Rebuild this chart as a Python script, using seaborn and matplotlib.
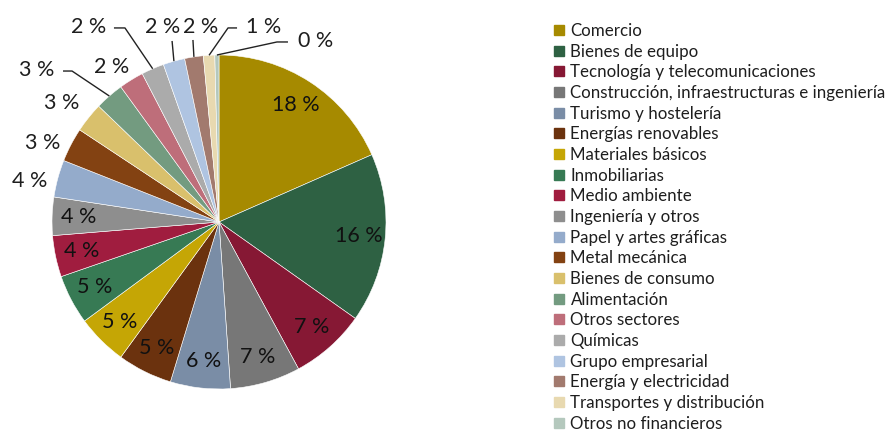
import matplotlib
matplotlib.use("Agg")
import matplotlib.pyplot as plt
from matplotlib.lines import Line2D
import numpy as np
import seaborn as sns

sectors = [
    "Comercio",
    "Bienes de equipo",
    "Tecnología y telecomunicaciones",
    "Construcción, infraestructuras e ingeniería",
    "Turismo y hostelería",
    "Energías renovables",
    "Materiales básicos",
    "Inmobiliarias",
    "Medio ambiente",
    "Ingeniería y otros",
    "Papel y artes gráficas",
    "Metal mecánica",
    "Bienes de consumo",
    "Alimentación",
    "Otros sectores",
    "Químicas",
    "Grupo empresarial",
    "Energía y electricidad",
    "Transportes y distribución",
    "Otros no financieros",
]
shares = [18.4, 16.4, 7.3, 6.8, 5.8, 5.3, 4.9, 4.8, 4.0, 3.7,
          3.6, 3.3, 2.9, 2.8, 2.4, 2.2, 2.1, 1.8, 1.1, 0.4]
colors = [
    "#A68A00", "#2E6143", "#861834", "#777777", "#7A8DA6",
    "#6B320E", "#C5A605", "#377A54", "#A01D3F", "#8E8E8E",
    "#94ABCB", "#834212", "#D9C06C", "#739B80", "#BE6E7A",
    "#ABABAB", "#AFC4E1", "#A27A6E", "#E8D9B0", "#B4C8BD",
]

sns.set_theme(style="white")
plt.rcParams["font.family"] = ["Lato", "DejaVu Sans"]
text_color = "#1e1e1e"

fig = plt.figure(figsize=(8.9, 4.32), dpi=100)
ax = fig.add_axes([52 / 890, 43 / 432, 334 / 890, 334 / 432])
wedges, _ = ax.pie(
    shares, colors=colors, startangle=90, counterclock=False, radius=1,
    wedgeprops=dict(edgecolor="white", linewidth=0.4),
)
ax.set_xlim(-1, 1)
ax.set_ylim(-1, 1)
ax.set_aspect("equal")
ax.axis("off")

total = sum(shares)
labels = [f"{round(100 * v / total)} %" for v in shares]
n_inside = 10

# label placement for the small slices: text position and optional leader elbow
outside = {
    10: ((-1.132, 0.246), None),
    11: ((-1.054, 0.473), None),
    12: ((-0.940, 0.713), None),
    13: ((-1.090, 0.910), [(-0.934, 0.904), (-0.880, 0.904)]),
    14: ((-0.641, 0.928), None),
    15: ((-0.778, 1.168), [(-0.629, 1.162), (-0.563, 1.162)]),
    16: ((-0.335, 1.168), [(-0.281, 1.084)]),
    17: ((-0.108, 1.168), [(-0.156, 1.090)]),
    18: ((0.269, 1.168), [(0.108, 1.162), (0.054, 1.162)]),
    19: ((0.581, 1.084), [(0.413, 1.078), (0.347, 1.078)]),
}

for i, w in enumerate(wedges):
    mid = np.deg2rad((w.theta1 + w.theta2) / 2)
    cx, cy = np.cos(mid), np.sin(mid)
    if i < n_inside:
        ax.text(0.84 * cx, 0.84 * cy, labels[i], ha="center", va="center",
                fontsize=15.5, color="#111111")
    else:
        (tx, ty), leader = outside[i]
        ax.text(tx, ty, labels[i], ha="center", va="center", fontsize=15.5,
                color=text_color, clip_on=False)
        if leader:
            pts = leader + [(cx, cy)]
            xs, ys = zip(*pts)
            ax.plot(xs, ys, color="#222222", lw=1.0, clip_on=False,
                    solid_capstyle="butt")

handles = [
    Line2D([], [], marker="s", linestyle="none", markersize=6.5,
           markerfacecolor=c, markeredgecolor=c)
    for c in colors
]
fig.legend(
    handles, sectors, loc="upper left", bbox_to_anchor=(551 / 890, 1 - 23 / 432),
    frameon=False, prop=dict(size=12.2), labelspacing=0.275,
    handletextpad=0.15, borderaxespad=0, borderpad=0, handlelength=1.0,
    labelcolor=text_color,
)

fig.savefig("out.png", dpi=100)
